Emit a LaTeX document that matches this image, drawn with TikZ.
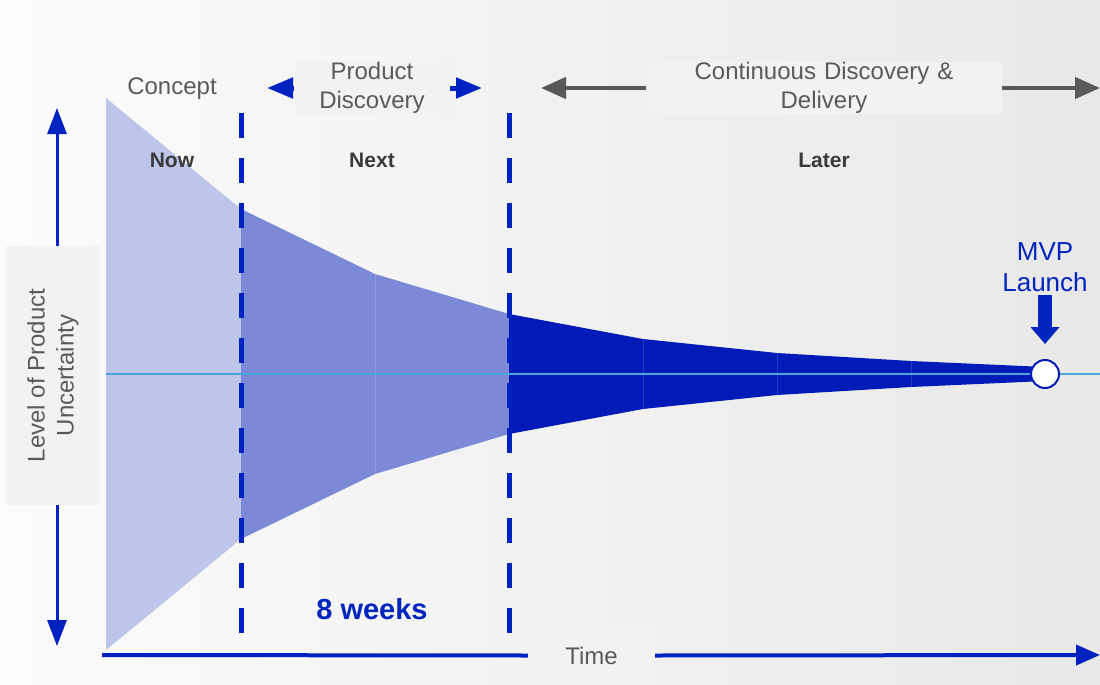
\documentclass[tikz,border=0pt]{standalone}
\usepackage{fontspec}
\setmainfont{Liberation Sans}
\usetikzlibrary{arrows.meta, positioning}
\definecolor{bgleft}{HTML}{FBFBFB}
\definecolor{bgright}{HTML}{E8E8E8}
\definecolor{boxgrey}{HTML}{F2F2F2}
\definecolor{labelgrey}{HTML}{5A5A5A}
\definecolor{phasegrey}{HTML}{3A3A3A}
\definecolor{arrowgrey}{HTML}{595959}
\definecolor{funnellight}{HTML}{BEC5EA}
\definecolor{funnelmid}{HTML}{7B89D6}
\definecolor{funneldark}{HTML}{001BB8}
\definecolor{dashblue}{HTML}{0022C0}
\definecolor{textblue}{HTML}{0025BE}
\definecolor{centreblue}{HTML}{4BA6DD}

\begin{document}
\begin{tikzpicture}[x=1pt, y=-1pt,
    greylabel/.style={text=labelgrey, font=\fontsize{24}{29}\selectfont, align=center},
    greybox/.style={greylabel, fill=boxgrey, inner sep=2pt},
    phase/.style={text=phasegrey, font=\bfseries\fontsize{21}{24}\selectfont},
    blueaxis/.style={draw=dashblue, line width=3pt, -{Triangle[width=19pt, length=26pt]}},
    timeaxis/.style={draw=dashblue, line width=4pt, -{Triangle[width=20pt, length=24pt]}},
    pdarrow/.style={draw=dashblue, line width=5pt, -{Triangle[width=20pt, length=26pt]}},
    cddarrow/.style={draw=arrowgrey, line width=4.5pt, -{Triangle[width=21pt, length=25pt]}},
    splitline/.style={draw=dashblue, line width=5pt, dash pattern=on 25pt off 20pt}]
    \useasboundingbox (0,0) rectangle (1100,685);
    \shade[left color=bgleft, right color=bgright] (0,0) rectangle (1100,685);

    % funnel sections
    \foreach \xa/\xb/\ha/\hb/\col in {106/241/276/165/funnellight, 241/375/165/100/funnelmid,
            375/509/100/60/funnelmid, 509/643/60/35/funneldark, 643/777/35/21/funneldark,
            777/911/21/13/funneldark, 911/1045/13/7/funneldark}
        \fill[\col] (\xa,{374-\ha}) -- (\xb,{374-\hb}) -- (\xb,{374+\hb}) -- (\xa,{374+\ha}) -- cycle;
    \foreach \xs/\hs in {375/100, 643/35, 777/21, 911/13}
        \draw[white, opacity=0.15, line width=0.6pt] (\xs,{374-\hs}) -- (\xs,{374+\hs});
    \draw[centreblue, line width=1.5pt] (106,374) -- (1100,374);

    \draw[splitline] (241,113) -- (241,636);
    \draw[splitline] (509,113) -- (509,636);

    \node[circle, draw=funneldark, fill=white, line width=2pt, minimum size=28pt, inner sep=0pt] (mvpdot) at (1045,374) {};

    % phase headings
    \node[greylabel] (concept) at (172,89) {Concept};
    \node[greybox, text width=151pt, inner ysep=0pt] (pd) at (372,88) {Product\\Discovery};
    \node[greybox, text width=351pt, inner ysep=0pt] (cdd) at (824,88) {Continuous Discovery \&\\Delivery};
    \coordinate (pdleft) at (267,88);
    \coordinate (pdright) at (482,88);
    \coordinate (cddleft) at (541,88);
    \coordinate (cddright) at (1100,88);
    \draw[pdarrow] (pd.west) -- (pdleft);
    \draw[pdarrow] (pd.east) -- (pdright);
    \draw[cddarrow] (cdd.west) -- (cddleft);
    \draw[cddarrow] (cdd.east) -- (cddright);

    \node[phase] (now) at (172,160) {Now};
    \node[phase] (next) at (372,160) {Next};
    \node[phase] (later) at (824,160) {Later};

    \node[text=textblue, font=\bfseries\fontsize{29}{32}\selectfont] (weeks) at (372,609) {8 weeks};

    \node[text=textblue, font=\fontsize{26}{31}\selectfont, align=center] (mvp) at (1045,267) {MVP\\Launch};
    \draw[draw=textblue, line width=14pt, shorten >=15pt, -{Triangle[width=28pt, length=17pt]}] (mvp.south) -- (mvpdot.north);

    % axes
    \node[greybox, rotate=90, minimum width=259pt, minimum height=94pt] (uncert) at (53,375.5) {Level of Product\\Uncertainty};
    \coordinate (utop) at (57,108);
    \coordinate (ubot) at (57,646);
    \draw[blueaxis] (uncert.east -| utop) -- (utop);
    \draw[blueaxis] (uncert.west -| ubot) -- (ubot);

    \node[greybox, minimum width=127pt, minimum height=59pt] (time) at (591.5,655.5) {Time};
    \coordinate (torigin) at (102,655);
    \coordinate (tend) at (1100,655);
    \draw[dashblue, line width=4pt] (torigin) -- (time.west);
    \draw[timeaxis] (time.east) -- (tend);
\end{tikzpicture}
\end{document}
